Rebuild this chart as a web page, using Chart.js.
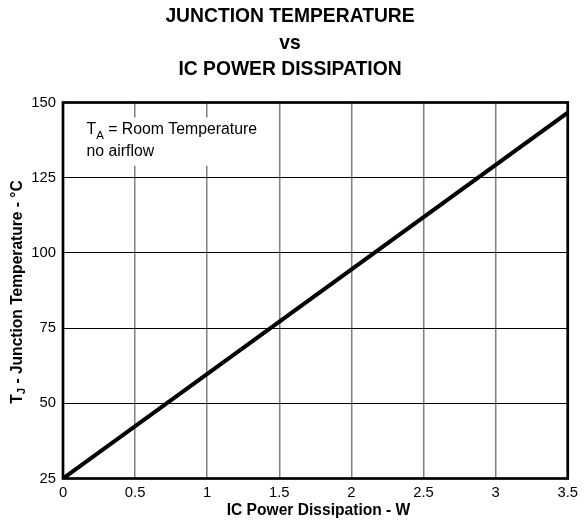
<!DOCTYPE html>
<html><head><meta charset="utf-8">
<script src="https://cdn.jsdelivr.net/npm/chart.js@4/dist/chart.umd.min.js"></script>
<style>html,body{margin:0;padding:0;background:#fff}#wrap{width:584px;height:525px}</style>
</head><body><div id="wrap"><canvas id="c" width="584" height="525"></canvas></div>
<script>
const titleLines = ['JUNCTION TEMPERATURE', 'vs', 'IC POWER DISSIPATION'];
const powerW = [0, 3.5];
const junctionTempC = [25, 146.6];
const xTicks = [0, 0.5, 1, 1.5, 2, 2.5, 3, 3.5];
const yTicks = [25, 50, 75, 100, 125, 150];
const xAxisTitle = 'IC Power Dissipation - W';
const yAxisTitle = ['T', 'J', ' - Junction Temperature - °C'];
const noteLine1 = ['T', 'A', ' = Room Temperature'];
const noteLine2 = 'no airflow';

const FONT = '"Liberation Sans", Arial, Helvetica, sans-serif';

function drawSubText(ctx, parts, x, y, size, subSize, subShift, bold) {
  const w = bold ? 'bold ' : '';
  ctx.font = w + size + 'px ' + FONT;
  ctx.fillText(parts[0], x, y);
  let cx = x + ctx.measureText(parts[0]).width;
  ctx.font = w + subSize + 'px ' + FONT;
  ctx.fillText(parts[1], cx, y + subShift);
  cx += ctx.measureText(parts[1]).width;
  ctx.font = w + size + 'px ' + FONT;
  ctx.fillText(parts[2], cx, y);
  return cx + ctx.measureText(parts[2]).width - x;
}
function measureSub(ctx, parts, size, subSize, bold) {
  const w = bold ? 'bold ' : '';
  ctx.font = w + size + 'px ' + FONT;
  let t = ctx.measureText(parts[0]).width + ctx.measureText(parts[2]).width;
  ctx.font = w + subSize + 'px ' + FONT;
  t += ctx.measureText(parts[1]).width;
  return t;
}

const decor = {
  id: 'decor',
  beforeDatasetsDraw(chart) {
    const ctx = chart.ctx;
    const xs = chart.scales.x, ys = chart.scales.y;
    ctx.save();
    ctx.fillStyle = '#fff';
    ctx.fillRect(xs.getPixelForValue(0.08), ys.getPixelForValue(145), xs.getPixelForValue(1.4) - xs.getPixelForValue(0.08), ys.getPixelForValue(129) - ys.getPixelForValue(145));
    ctx.fillStyle = '#000';
    ctx.textBaseline = 'alphabetic';
    ctx.textAlign = 'left';
    drawSubText(ctx, noteLine1, 86.5, 134, 15.8, 11.5, 5, false);
    ctx.font = '15.8px ' + FONT;
    ctx.fillText(noteLine2, 86.5, 155.5);
    ctx.restore();
  },
  afterDatasetsDraw(chart) {
    const ctx = chart.ctx, a = chart.chartArea;
    ctx.save();
    ctx.strokeStyle = '#000';
    ctx.lineWidth = 2.7;
    ctx.strokeRect(a.left, a.top, a.right - a.left, a.bottom - a.top);
    ctx.restore();
  },
  afterDraw(chart) {
    const ctx = chart.ctx, a = chart.chartArea;
    ctx.save();
    ctx.fillStyle = '#000';
    ctx.textAlign = 'center';
    ctx.textBaseline = 'alphabetic';
    ctx.font = 'bold 19.3px ' + FONT;
    const baselines = [21.8, 48.5, 75.2];
    titleLines.forEach((t, i) => ctx.fillText(t, 290, baselines[i]));
    ctx.font = 'bold 15.6px ' + FONT;
    ctx.textBaseline = 'middle';
    ctx.fillText(xAxisTitle, 318.5, 511);
    ctx.translate(17.5, (a.top + a.bottom) / 2 + 1.5);
    ctx.rotate(-Math.PI / 2);
    ctx.textAlign = 'left';
    ctx.textBaseline = 'middle';
    const tw = measureSub(ctx, yAxisTitle, 15.6, 11.5, true);
    drawSubText(ctx, yAxisTitle, -tw / 2, 0, 15.6, 11.5, 4, true);
    ctx.restore();
  }
};

new Chart(document.getElementById('c'), {
  type: 'scatter',
  data: {
    datasets: [{
      data: powerW.map((x, i) => ({ x: x, y: junctionTempC[i] })),
      showLine: true,
      borderColor: '#000',
      borderWidth: 4,
      pointRadius: 0,
      fill: false,
      tension: 0
    }]
  },
  options: {
    responsive: false,
    devicePixelRatio: 1,
    animation: false,
    layout: { padding: { top: 102.5, right: 16, bottom: 0, left: 0 } },
    plugins: { legend: { display: false }, title: { display: false }, tooltip: { enabled: false } },
    scales: {
      x: {
        type: 'linear', min: 0, max: 3.5,
        afterBuildTicks: s => { s.ticks = xTicks.map(v => ({ value: v })); },
        afterFit: s => { s.height = 46.5; },
        ticks: { color: '#000', font: { family: FONT, size: 14.8 }, padding: 6, maxRotation: 0, autoSkip: false, callback: v => String(v) },
        grid: { color: '#808080', lineWidth: 1.5, drawTicks: false },
        border: { display: false }
      },
      y: {
        type: 'linear', min: 25, max: 150,
        afterBuildTicks: s => { s.ticks = yTicks.map(v => ({ value: v })); },
        afterFit: s => { s.width = 63; },
        ticks: { color: '#000', font: { family: FONT, size: 14.8 }, padding: 7, autoSkip: false, callback: v => String(v) },
        grid: { color: '#000', lineWidth: 1, drawTicks: false },
        border: { display: false }
      }
    }
  },
  plugins: [decor]
});
</script>
</body></html>
